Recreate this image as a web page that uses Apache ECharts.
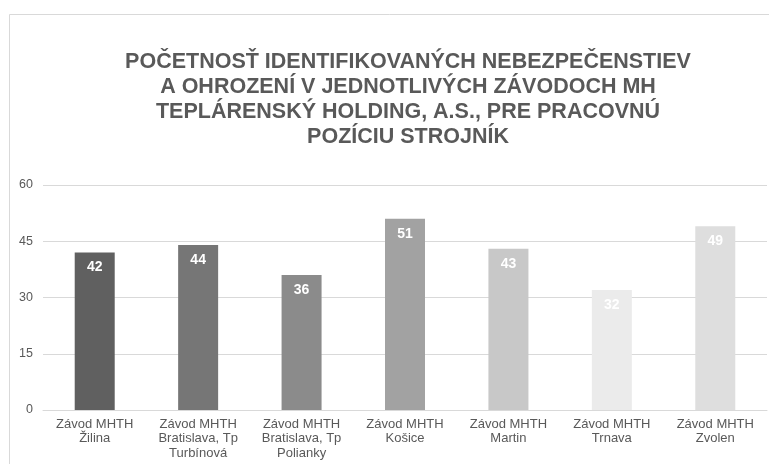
<!DOCTYPE html>
<html>
<head>
<meta charset="utf-8">
<script src="https://cdn.jsdelivr.net/npm/echarts@6/dist/echarts.min.js"></script>
<style>html,body{margin:0;padding:0;background:#fff}#c{width:769px;height:464px}</style>
</head>
<body>
<div id="c"></div>
<script>
const categories = [
  'Závod MHTH\nŽilina',
  'Závod MHTH\nBratislava, Tp\nTurbínová',
  'Závod MHTH\nBratislava, Tp\nPolianky',
  'Závod MHTH\nKošice',
  'Závod MHTH\nMartin',
  'Závod MHTH\nTrnava',
  'Závod MHTH\nZvolen'
];
const values = [42, 44, 36, 51, 43, 32, 49];
const barColors = ['#606060', '#767676', '#8b8b8b', '#a2a2a2', '#c8c8c8', '#ebebeb', '#dedede'];
const yTicks = [0, 15, 30, 45, 60];
const titleText = 'POČETNOSŤ IDENTIFIKOVANÝCH NEBEZPEČENSTIEV\nA OHROZENÍ V JEDNOTLIVÝCH ZÁVODOCH MH\nTEPLÁRENSKÝ HOLDING, A.S., PRE PRACOVNÚ\nPOZÍCIU STROJNÍK';

const chart = echarts.init(document.getElementById('c'), null, {renderer: 'canvas'});
chart.setOption({
  animation: false,
  backgroundColor: '#fff',
  title: {
    text: titleText,
    left: 403,
    top: 45,
    textAlign: 'center',
    textStyle: {
      fontFamily: 'Liberation Sans, Arial, sans-serif',
      fontSize: 21.5,
      fontWeight: 'bold',
      color: '#595959',
      lineHeight: 25
    }
  },
  graphic: [{
    type: 'rect',
    shape: {x: 9.5, y: 14.5, width: 800, height: 500},
    style: {fill: 'none', stroke: '#d9d9d9', lineWidth: 1},
    silent: true,
    z: -1
  }],
  grid: {left: 43, right: 2, top: 185, bottom: 54},
  xAxis: {
    type: 'category',
    data: categories,
    axisLine: {show: true, lineStyle: {color: '#d9d9d9'}},
    axisTick: {show: false},
    axisLabel: {
      interval: 0,
      color: '#595959',
      fontFamily: 'Liberation Sans, Arial, sans-serif',
      fontSize: 13,
      lineHeight: 14.5,
      margin: 7
    }
  },
  yAxis: {
    type: 'value',
    min: yTicks[0],
    max: yTicks[yTicks.length - 1],
    interval: 15,
    axisLine: {show: false},
    axisTick: {show: false},
    splitLine: {lineStyle: {color: '#d9d9d9'}},
    axisLabel: {
      color: '#595959',
      fontFamily: 'Liberation Sans, Arial, sans-serif',
      fontSize: 12.5,
      margin: 10
    }
  },
  series: [{
    type: 'bar',
    data: values.map((v, i) => ({value: v, itemStyle: {color: barColors[i]}})),
    barWidth: 40,
    label: {
      show: true,
      position: 'insideTop',
      distance: 8,
      color: '#ffffff',
      fontFamily: 'Liberation Sans, Arial, sans-serif',
      fontWeight: 'bold',
      fontSize: 14
    }
  }]
});
</script>
</body>
</html>
